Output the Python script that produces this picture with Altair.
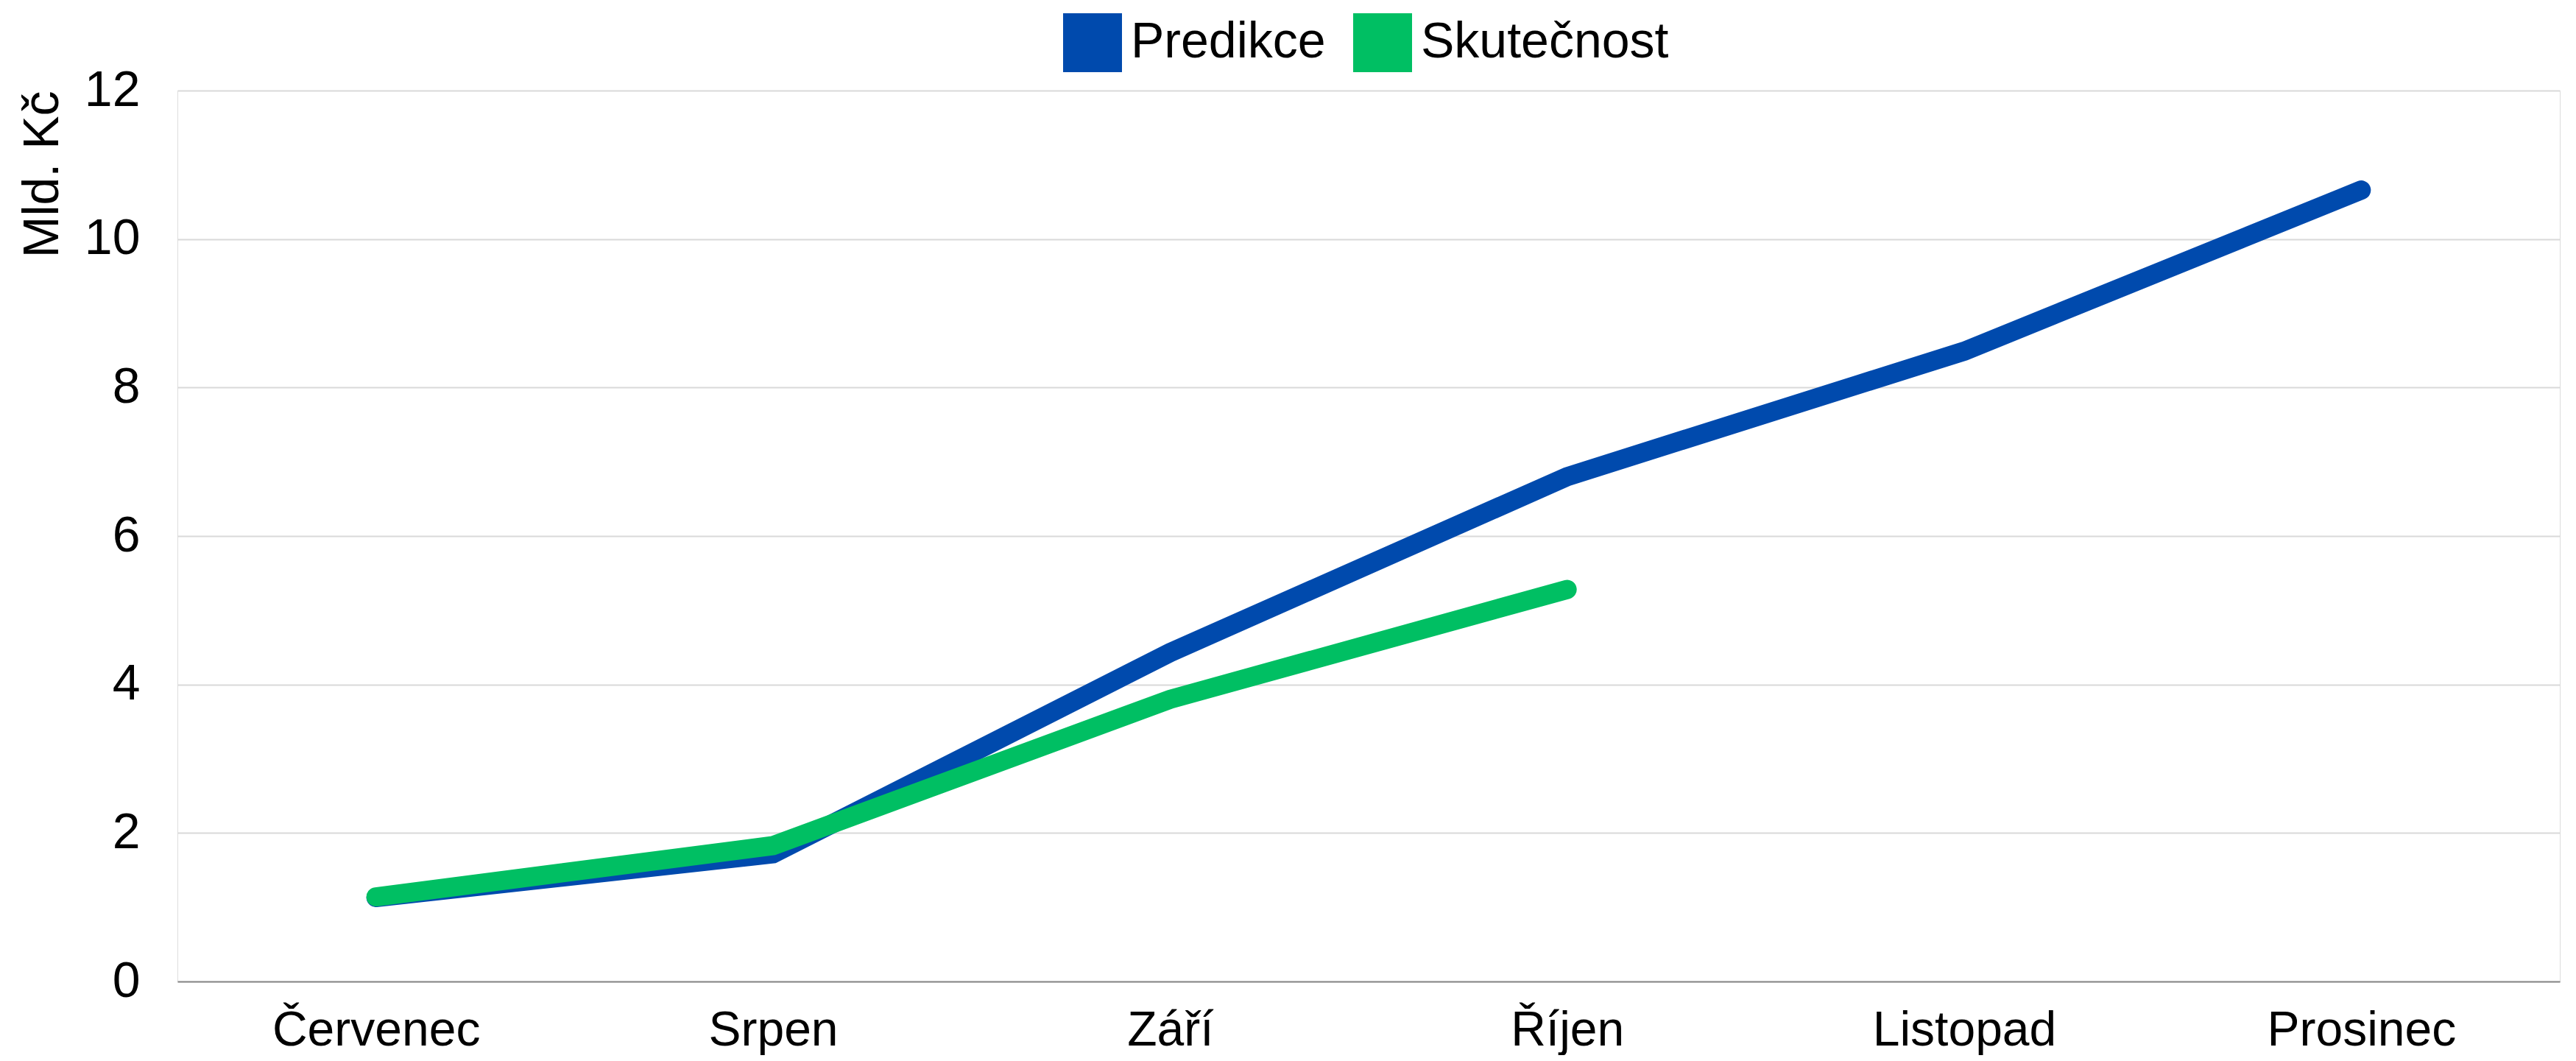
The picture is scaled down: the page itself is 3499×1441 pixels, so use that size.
import altair as alt
import pandas as pd

months = ["Červenec", "Srpen", "Září", "Říjen", "Listopad", "Prosinec"]
predikce = [1.13, 1.72, 4.43, 6.80, 8.49, 10.66]
skutecnost = [1.14, 1.83, 3.80, 5.28]
series_names = ["Predikce", "Skutečnost"]
colors = ["#004AAD", "#00BF63"]

rows = []
for m, v in zip(months, predikce):
    rows.append({"Měsíc": m, "Hodnota": v, "Řada": series_names[0]})
for m, v in zip(months, skutecnost):
    rows.append({"Měsíc": m, "Hodnota": v, "Řada": series_names[1]})
df = pd.DataFrame(rows)

FONT = "Liberation Sans"

chart = (
    alt.Chart(df)
    .mark_line(strokeWidth=26, strokeCap="round", strokeJoin="miter")
    .encode(
        x=alt.X(
            "Měsíc:N",
            sort=months,
            scale=alt.Scale(padding=0.5),
            axis=alt.Axis(
                title=None,
                labelAngle=0,
                labelFontSize=66,
                labelFont=FONT,
                labelColor="#000000",
                labelPadding=34,
                labelLimit=2000,
                ticks=False,
                grid=False,
                domain=True,
                domainColor="#888888",
                domainWidth=2,
            ),
        ),
        y=alt.Y(
            "Hodnota:Q",
            scale=alt.Scale(domain=[0, 12], nice=False),
            axis=alt.Axis(
                title="Mld. Kč",
                titleFont=FONT,
                titleFontSize=68,
                titleFontWeight="normal",
                titleColor="#000000",
                titleAngle=270,
                titleX=-183,
                titleY=0,
                titleAlign="right",
                titleBaseline="middle",
                values=[0, 2, 4, 6, 8, 10, 12],
                labelFontSize=68,
                labelFont=FONT,
                labelColor="#000000",
                labelPadding=51,
                ticks=False,
                domain=False,
                grid=True,
                gridColor="#D9D9D9",
                gridWidth=2,
            ),
        ),
        color=alt.Color(
            "Řada:N",
            sort=series_names,
            scale=alt.Scale(domain=series_names, range=colors),
            legend=alt.Legend(
                title=None,
                orient="none",
                direction="horizontal",
                legendX=1203,
                legendY=-105,
                symbolType="square",
                symbolSize=1296,
                symbolStrokeWidth=44,
                symbolOpacity=1,
                labelFontSize=68,
                labelFont=FONT,
                labelColor="#000000",
                labelLimit=2000,
                labelOffset=12,
                columnPadding=-29,
                padding=0,
            ),
        ),
        order=alt.Order("Řada:N"),
        detail="Řada:N",
    )
    .properties(
        width=3236,
        height=1210,
        autosize=alt.AutoSizeParams(type="none"),
        padding={"left": 233, "top": 115, "right": 10, "bottom": 100},
    )
    .configure_view(stroke=None)
    .configure(background="#FFFFFF")
)

chart.save("out.html", embed_options={"renderer": "svg", "actions": False})
